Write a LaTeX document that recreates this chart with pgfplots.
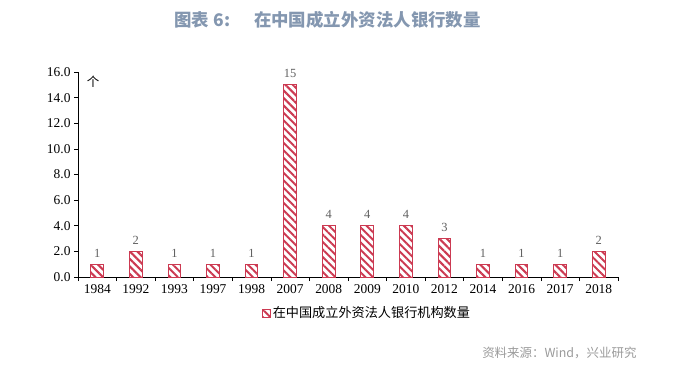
\documentclass[border=0pt]{standalone}
\usepackage{fontspec}
\setmainfont{Liberation Serif}
\newfontfamily\cjk{Noto Sans CJK SC}
\usepackage{pgfplots}
\pgfplotsset{compat=1.18}
\usetikzlibrary{patterns.meta}
\definecolor{barred}{HTML}{CC3A52}
\definecolor{titleblue}{HTML}{8497B0}
\definecolor{srcgray}{HTML}{9A9A9A}
\definecolor{lblgray}{HTML}{606060}
\begin{document}
\begin{tikzpicture}[x=1bp,y=1bp]
\useasboundingbox (0,0) rectangle (684,369);
\node[anchor=west, text=titleblue, font=\cjk\bfseries\fontsize{17.5}{20}\selectfont] at (171,349) {图表 6:\hspace{24bp}在中国成立外资法人银行数量};
\node[anchor=east, text=srcgray, font=\cjk\fontsize{12.5}{15}\selectfont] at (640,16) {资料来源：Wind，兴业研究};
\node[font=\cjk\fontsize{12.5}{15}\selectfont] at (93,287) {个};
\begin{axis}[
  at={(78bp,92bp)}, anchor=south west,
  scale only axis, width=540bp, height=205bp,
  xmin=-0.5, xmax=13.5, ymin=0, ymax=16,
  axis x line*=bottom, axis y line*=left,
  axis line style={black, line width=0.6bp},
  ytick={0,2,...,16},
  yticklabel style={/pgf/number format/fixed, /pgf/number format/fixed zerofill, /pgf/number format/precision=1},
  /pgf/number format/assume math mode=true,
  tick label style={font=\fontsize{13.5}{15}\selectfont, black},
  tick align=outside,
  major tick length=4bp,
  xtick={0,...,13},
  xticklabels={1984,1992,1993,1997,1998,2007,2008,2009,2010,2012,2014,2016,2017,2018},
  major x tick style={draw=none},
  minor xtick={-0.5,0.5,...,13.5},
  minor tick length=4bp,
  minor x tick style={black, line width=0.6bp},
  major y tick style={black, line width=0.6bp},
  ybar, bar width=12.7bp,
  nodes near coords,
  every node near coord/.append style={text=lblgray, font=\fontsize{12.5}{14}\selectfont, yshift=3bp},
  legend style={at={(0.535,-0.176)}, anchor=center, draw=none, fill=none,
    font=\cjk\fontsize{13.2}{15}\selectfont, inner sep=0pt},
  legend image code/.code={\draw[#1] (0bp,-4bp) rectangle (8bp,4bp);},
]
\addplot[draw=barred, line width=1bp, pattern={Lines[angle=-45, distance=5.3bp, line width=2bp]}, pattern color=barred]
  coordinates {(0,1) (1,2) (2,1) (3,1) (4,1) (5,15) (6,4) (7,4) (8,4) (9,3) (10,1) (11,1) (12,1) (13,2)};
\addlegendentry{在中国成立外资法人银行机构数量}
\end{axis}
\end{tikzpicture}
\end{document}
